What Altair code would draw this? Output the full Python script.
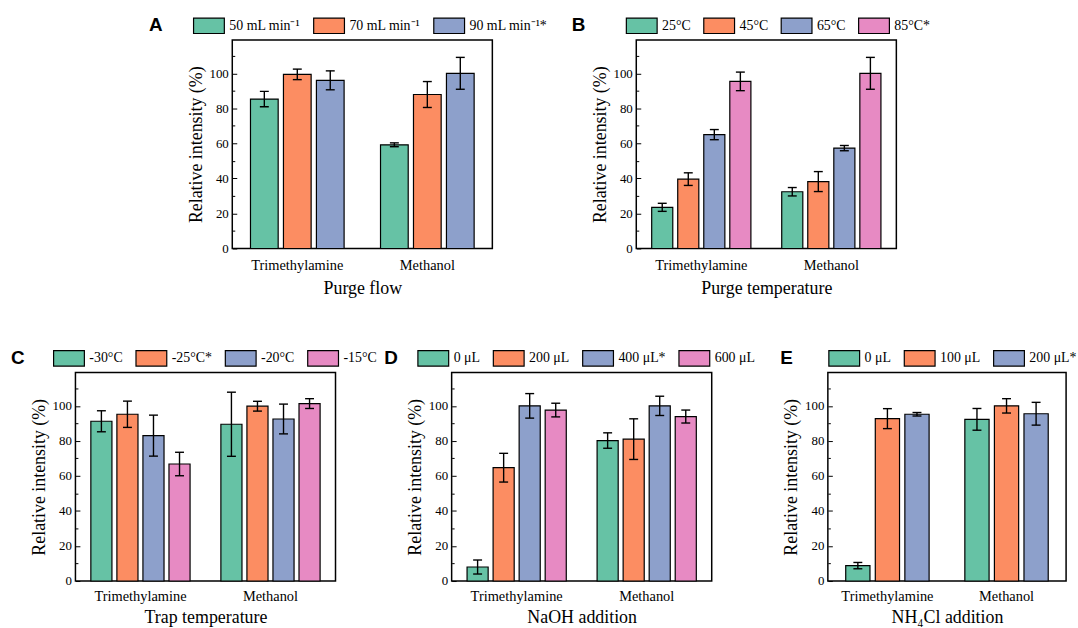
import altair as alt
import pandas as pd

SERIF = "Liberation Serif"
SANS = "Liberation Sans"

compounds = ["Trimethylamine", "Methanol"]
palette = ["#66c2a5", "#fc8d62", "#8da0cb", "#e78ac3"]
y_major = [0, 20, 40, 60, 80, 100]
y_minor = [10, 30, 50, 70, 90, 110]
y_max = 119

# Panel A - purge flow
a_levels = ["50 mL min⁻¹", "70 mL min⁻¹", "90 mL min⁻¹*"]
a_tma = [85.3, 99.4, 96.0]
a_tma_sd = [4.4, 3.0, 5.4]
a_meoh = [59.2, 87.9, 100.0]
a_meoh_sd = [1.1, 7.4, 9.1]

# Panel B - purge temperature
b_levels = ["25°C", "45°C", "65°C", "85°C*"]
b_tma = [23.5, 39.6, 65.0, 95.4]
b_tma_sd = [2.3, 3.6, 2.9, 5.3]
b_meoh = [32.4, 38.2, 57.3, 100.0]
b_meoh_sd = [2.4, 5.7, 1.5, 9.1]

# Panel C - trap temperature
c_levels = ["-30°C", "-25°C*", "-20°C", "-15°C"]
c_tma = [91.2, 95.2, 83.0, 66.8]
c_tma_sd = [6.0, 7.5, 11.7, 6.7]
c_meoh = [89.5, 99.8, 92.5, 101.3]
c_meoh_sd = [18.3, 2.8, 8.5, 2.8]

# Panel D - NaOH addition
d_levels = ["0 μL", "200 μL", "400 μL*", "600 μL"]
d_tma = [8.0, 64.7, 100.0, 97.6]
d_tma_sd = [4.0, 8.2, 7.0, 3.9]
d_meoh = [80.2, 81.0, 100.0, 93.9]
d_meoh_sd = [4.4, 11.6, 5.5, 3.7]

# Panel E - NH4Cl addition
e_levels = ["0 μL", "100 μL", "200 μL*"]
e_tma = [8.8, 92.7, 95.2]
e_tma_sd = [1.8, 5.7, 1.0]
e_meoh = [92.3, 100.0, 95.5]
e_meoh_sd = [6.2, 4.1, 6.5]

PLOT_H = 210
LEGEND_Y = -31

INDEP = dict(x="independent", y="independent", xOffset="independent", fill="independent")


def panel(letter, levels, tma, tma_sd, meoh, meoh_sd, xtitle, width,
          legend_x, letter_x, pad_x, pad_off, lab_pad, tit_pad):
    k = letter.lower()
    cf, lf, vf, lof, hif = f"cmp_{k}", f"lev_{k}", f"val_{k}", f"lo_{k}", f"hi_{k}"
    rows = []
    for comp, vals, sds in ((compounds[0], tma, tma_sd), (compounds[1], meoh, meoh_sd)):
        for lev, v, s in zip(levels, vals, sds):
            rows.append({cf: comp, lf: lev, vf: v, lof: v - s, hif: v + s})
    df = pd.DataFrame(rows)
    yscale = alt.Scale(domain=[0, y_max], nice=False, zero=True)
    x = alt.X(f"{cf}:N",
              scale=alt.Scale(domain=compounds, paddingInner=pad_x, paddingOuter=pad_x / 2),
              axis=alt.Axis(title=xtitle, ticks=False, domain=False, labelAngle=0,
                            labelFont=SERIF, labelFontSize=14.5, labelColor="black",
                            labelPadding=lab_pad, titleFont=SERIF, titleFontSize=18,
                            titleFontWeight="normal", titleColor="black", titlePadding=tit_pad))
    xo = alt.XOffset(f"{lf}:N", scale=alt.Scale(domain=levels, paddingInner=pad_off, paddingOuter=0))
    base = alt.Chart(df)
    bars = base.mark_bar(stroke="black", strokeWidth=1.2).encode(
        x=x, xOffset=xo,
        y=alt.Y(f"{vf}:Q", scale=yscale,
                axis=alt.Axis(values=y_major, ticks=False, domain=False, grid=False,
                              labelFont=SERIF, labelFontSize=13, labelColor="black",
                              labelPadding=4, title="Relative intensity (%)",
                              titleFont=SERIF, titleFontSize=18, titleFontWeight="normal",
                              titleColor="black", titlePadding=4)),
        fill=alt.Fill(f"{lf}:N",
                      scale=alt.Scale(domain=levels, range=palette[:len(levels)]),
                      legend=alt.Legend(title=None, orient="none", legendX=legend_x,
                                        legendY=LEGEND_Y, direction="horizontal",
                                        symbolType="M-1,-0.5H1V0.5H-1Z", symbolSize=961,
                                        symbolStrokeColor="black", symbolStrokeWidth=1.2,
                                        symbolOpacity=1, labelFont=SERIF, labelFontSize=14,
                                        labelColor="black", labelOffset=4, columnPadding=10,
                                        padding=0, labelLimit=0)),
    )
    rule = base.mark_rule(color="black", strokeWidth=1.4).encode(
        x=x, xOffset=xo,
        y=alt.Y(f"{lof}:Q", scale=yscale,
                axis=alt.Axis(orient="right", offset=-width, values=y_major, labels=False,
                              title=None, domain=False, grid=False, tickColor="black",
                              tickWidth=1, tickSize=4.5)),
        y2=f"{hif}:Q",
    )
    cap_lo = base.mark_tick(color="black", thickness=1.4, size=9, opacity=1).encode(
        x=x, xOffset=xo,
        y=alt.Y(f"{lof}:Q", scale=yscale,
                axis=alt.Axis(orient="right", offset=-width, values=y_minor, labels=False,
                              title=None, domain=False, grid=False, tickColor="black",
                              tickWidth=1, tickSize=2.5)),
    )
    cap_hi = base.mark_tick(color="black", thickness=1.4, size=9, opacity=1).encode(
        x=x, xOffset=xo, y=alt.Y(f"{hif}:Q", scale=yscale, axis=None),
    )
    tag = alt.Chart(pd.DataFrame({f"t_{k}": [letter]})).mark_text(
        align="left", baseline="middle", font=SANS, fontSize=19, fontWeight="bold",
        color="black").encode(x=alt.value(letter_x), y=alt.value(-15), text=f"t_{k}:N")
    return alt.layer(bars, rule, cap_lo, cap_hi, tag).resolve_axis(y="independent").properties(
        width=width, height=PLOT_H)


pA = panel("A", a_levels, a_tma, a_tma_sd, a_meoh, a_meoh_sd, "Purge flow", 262, -40, -84, 0.28, 0.16, 10, 8)
pB = panel("B", b_levels, b_tma, b_tma_sd, b_meoh, b_meoh_sd, "Purge temperature", 262, -11, -65, 0.237, 0.19, 10, 8)
pC = panel("C", c_levels, c_tma, c_tma_sd, c_meoh, c_meoh_sd, "Trap temperature", 262, -23, -65, 0.237, 0.19, 9, 5)
pD = panel("D", d_levels, d_tma, d_tma_sd, d_meoh, d_meoh_sd, "NaOH addition", 262, -35, -68, 0.237, 0.19, 9, 5)
pE = panel("E", e_levels, e_tma, e_tma_sd, e_meoh, e_meoh_sd, "NH₄Cl addition", 240, 0, -48, 0.30, 0.18, 9, 5)

spacer = alt.Chart(pd.DataFrame({"v": [0]})).mark_point(opacity=0).encode(
    x=alt.value(0), y=alt.value(0)).properties(width=13, height=1, view=alt.ViewBackground(strokeOpacity=0))

top = alt.hconcat(spacer, pA, pB, spacing=145, bounds="flush").resolve_scale(**INDEP).resolve_legend(fill="independent")
bottom = alt.hconcat(pC, pD, pE, spacing=117, bounds="flush").resolve_scale(**INDEP).resolve_legend(fill="independent")

chart = alt.vconcat(top, bottom, spacing=42).resolve_scale(**INDEP).resolve_legend(fill="independent").properties(
    padding={"left": 10, "top": 6, "right": 0, "bottom": 0}
).configure_view(stroke="black", strokeWidth=1.5)

chart.save("out.html", embed_options={"renderer": "svg", "actions": False})
